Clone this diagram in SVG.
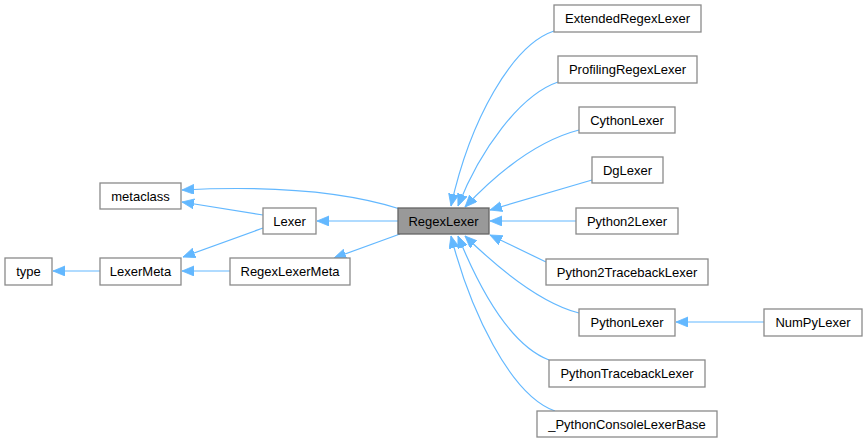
<svg xmlns="http://www.w3.org/2000/svg" width="868" height="443" viewBox="0 0 868 443">
<style>
.n rect{fill:#ffffff;stroke:#8a8a8a;stroke-width:1.3}
.n.main rect{fill:#999999;stroke:#666666}
.n text{font-family:"Liberation Sans",Arial,sans-serif;font-size:13px;fill:#000;text-anchor:middle}
.e path{fill:none;stroke:#63b8ff;stroke-width:1.2;marker-end:url(#ah)}
</style>
<defs>
<marker id="ah" markerUnits="userSpaceOnUse" markerWidth="14" markerHeight="12" refX="12" refY="5" orient="auto">
<path d="M0,0 L12,5 L0,10 z" fill="#63b8ff" stroke="#63b8ff" stroke-width="0.8"/>
</marker>
</defs>
<rect width="868" height="443" fill="#ffffff"/>
<g id="edges" class="e">
<path d="M554,31 C512,45 470,120 451,206"/>
<path d="M558,82 C520,95 480,150 458,206"/>
<path d="M579,130 C540,140 500,170 465,207"/>
<path d="M592,180 L490,210"/>
<path d="M576,221 L490,221"/>
<path d="M546,262 L490,235"/>
<path d="M579,313 C540,303 500,270 465,236"/>
<path d="M549,360 C510,345 480,290 458,236"/>
<path d="M555,411 C510,395 470,310 451,236"/>
<path d="M400,209 C340,190 260,186 182,190"/>
<path d="M263,215 L182,202"/>
<path d="M398,221 L317,221"/>
<path d="M263,228 L183,257"/>
<path d="M100,271 L53,271"/>
<path d="M230,271 L182,271"/>
<path d="M400,234 L334,258"/>
<path d="M764,322 L676,322"/>
</g>
<g id="RegexLexer" class="n main"><rect x="398" y="208" width="91" height="26"/><text x="443.5" y="226">RegexLexer</text></g>
<g id="metaclass" class="n"><rect x="100" y="183" width="81" height="26"/><text x="140.5" y="201">metaclass</text></g>
<g id="Lexer" class="n"><rect x="263" y="208" width="53" height="26"/><text x="289.5" y="226">Lexer</text></g>
<g id="type" class="n"><rect x="5" y="258" width="47" height="27"/><text x="28.5" y="276">type</text></g>
<g id="LexerMeta" class="n"><rect x="100" y="258" width="81" height="27"/><text x="140.5" y="276">LexerMeta</text></g>
<g id="RegexLexerMeta" class="n"><rect x="230" y="258" width="120" height="27"/><text x="290" y="276">RegexLexerMeta</text></g>
<g id="ExtendedRegexLexer" class="n"><rect x="554" y="5" width="147" height="27"/><text x="627.5" y="23">ExtendedRegexLexer</text></g>
<g id="ProfilingRegexLexer" class="n"><rect x="558" y="56" width="139" height="27"/><text x="627.5" y="74">ProfilingRegexLexer</text></g>
<g id="CythonLexer" class="n"><rect x="579" y="107" width="96" height="26"/><text x="627" y="125">CythonLexer</text></g>
<g id="DgLexer" class="n"><rect x="592" y="157" width="71" height="26"/><text x="627.5" y="175">DgLexer</text></g>
<g id="Python2Lexer" class="n"><rect x="576" y="208" width="102" height="26"/><text x="627" y="226">Python2Lexer</text></g>
<g id="Python2TracebackLexer" class="n"><rect x="546" y="259" width="162" height="26"/><text x="627" y="277">Python2TracebackLexer</text></g>
<g id="PythonLexer" class="n"><rect x="579" y="309" width="96" height="27"/><text x="627" y="327">PythonLexer</text></g>
<g id="NumPyLexer" class="n"><rect x="764" y="309" width="98" height="27"/><text x="813" y="327">NumPyLexer</text></g>
<g id="PythonTracebackLexer" class="n"><rect x="549" y="360" width="156" height="27"/><text x="627" y="378">PythonTracebackLexer</text></g>
<g id="PythonConsoleLexerBase" class="n"><rect x="537" y="411" width="180" height="26"/><text x="627" y="429">_PythonConsoleLexerBase</text></g>
</svg>
